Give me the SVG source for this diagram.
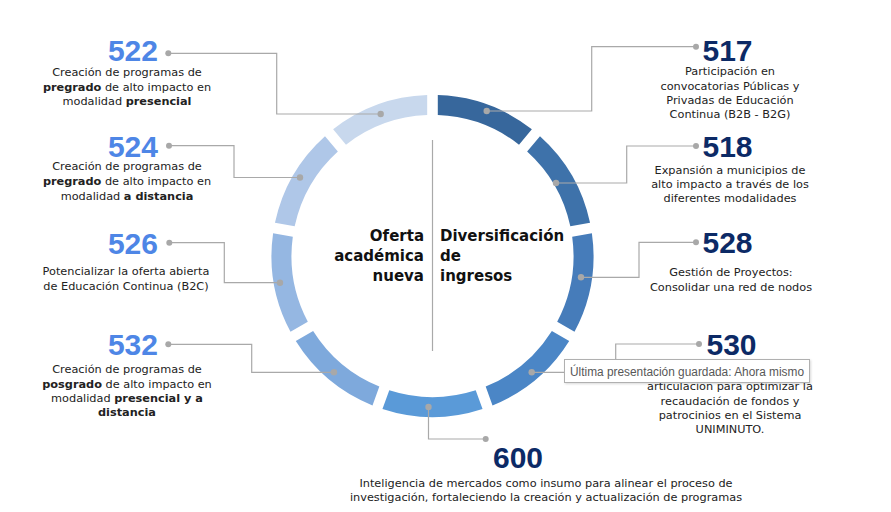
<svg xmlns="http://www.w3.org/2000/svg" xmlns:xlink="http://www.w3.org/1999/xlink" width="891" height="512" viewBox="0 0 891 512">
<style>
.num{font-family:"Liberation Sans",Arial,sans-serif;font-weight:bold;font-size:30px}
.nl{fill:#4E86E6}
.nr{fill:#0C2A66}
.d{font-family:"DejaVu Sans","Liberation Sans",sans-serif;font-size:11.3px;fill:#222;text-anchor:middle}
.b{font-weight:bold}
.c{font-family:"DejaVu Sans","Liberation Sans",sans-serif;font-weight:bold;font-size:15px;fill:#111}
.ln{fill:none;stroke:#A9A9A9;stroke-width:1.2}
.dot{fill:#A8A8A8}
</style>
<defs>
<path id="seg" d="M437.80,95.09 A161,161 0 0 1 531.87,129.32 L519.01,144.65 A141,141 0 0 0 437.80,115.10 Z"/>
<filter id="sh" x="-5%" y="-20%" width="110%" height="150%"><feDropShadow dx="1" dy="1" stdDeviation="1" flood-color="#000" flood-opacity="0.15"/></filter>
</defs>
<rect width="891" height="512" fill="#fff"/>

<g id="ring">
<use xlink:href="#seg" fill="#37679C"/>
<use xlink:href="#seg" fill="#3E72AA" transform="rotate(40 432.5 256)"/>
<use xlink:href="#seg" fill="#467CBA" transform="rotate(80 432.5 256)"/>
<use xlink:href="#seg" fill="#4B86C6" transform="rotate(120 432.5 256)"/>
<use xlink:href="#seg" fill="#5A9AD8" transform="rotate(160 432.5 256)"/>
<use xlink:href="#seg" fill="#7EA9DC" transform="rotate(200 432.5 256)"/>
<use xlink:href="#seg" fill="#95B7E2" transform="rotate(240 432.5 256)"/>
<use xlink:href="#seg" fill="#AFC7E8" transform="rotate(280 432.5 256)"/>
<use xlink:href="#seg" fill="#C8D8ED" transform="rotate(320 432.5 256)"/>
</g>

<g id="center">
<line x1="432.5" y1="140" x2="432.5" y2="351" stroke="#A9A9A9" stroke-width="1.2"/>
<text class="c" text-anchor="end" x="424" y="241">Oferta</text>
<text class="c" text-anchor="end" x="424" y="261">académica</text>
<text class="c" text-anchor="end" x="424" y="281">nueva</text>
<text class="c" x="440" y="241">Diversificación</text>
<text class="c" x="440" y="261">de</text>
<text class="c" x="440" y="281">ingresos</text>
</g>

<g id="connectors">
<path class="ln" d="M380.7,114 H276.7 V53.3 H168.3"/>
<path class="ln" d="M300,177.5 H234 V145.7 H169"/>
<path class="ln" d="M280,282.7 H224.3 V242.7 H169.3"/>
<path class="ln" d="M334,372.3 H251.7 V344.3 H168.3"/>
<path class="ln" d="M486.7,111 H591.7 V46.7 H696"/>
<path class="ln" d="M556,183 H626.7 V146 H696"/>
<path class="ln" d="M581,277.3 H639 V242.3 H696"/>
<path class="ln" d="M531.7,372.3 H615.7 V344 H699"/>
<path class="ln" d="M428.5,407 V439 H485.7"/>
</g>

<g id="n522">
<circle class="dot" cx="380.7" cy="114" r="3.2"/><circle class="dot" cx="168.3" cy="53.3" r="3"/>
<text class="num nl" text-anchor="end" x="158" y="61">522</text>
<text class="d" x="127" y="76">Creación de programas de</text>
<text class="d" x="127" y="91"><tspan class="b">pregrado</tspan> de alto impacto en</text>
<text class="d" x="127" y="105">modalidad <tspan class="b">presencial</tspan></text>
</g>

<g id="n524">
<circle class="dot" cx="300" cy="177.5" r="3.2"/><circle class="dot" cx="169" cy="145.7" r="3"/>
<text class="num nl" text-anchor="end" x="158" y="157">524</text>
<text class="d" x="127" y="170">Creación de programas de</text>
<text class="d" x="127" y="185"><tspan class="b">pregrado</tspan> de alto impacto en</text>
<text class="d" x="127" y="200">modalidad <tspan class="b">a distancia</tspan></text>
</g>

<g id="n526">
<circle class="dot" cx="280" cy="282.7" r="3.2"/><circle class="dot" cx="169.3" cy="242.7" r="3"/>
<text class="num nl" text-anchor="end" x="158" y="253.5">526</text>
<text class="d" x="126" y="275">Potencializar la oferta abierta</text>
<text class="d" x="126" y="290">de Educación Continua (B2C)</text>
</g>

<g id="n532">
<circle class="dot" cx="334" cy="372.3" r="3.2"/><circle class="dot" cx="168.3" cy="344.3" r="3"/>
<text class="num nl" text-anchor="end" x="158" y="354.5">532</text>
<text class="d" x="127" y="373">Creación de programas de</text>
<text class="d" x="127" y="388"><tspan class="b">posgrado</tspan> de alto impacto en</text>
<text class="d" x="127" y="402">modalidad <tspan class="b">presencial y a</tspan></text>
<text class="d b" x="127" y="416">distancia</text>
</g>

<g id="n517">
<circle class="dot" cx="486.7" cy="111" r="3.2"/><circle class="dot" cx="696" cy="46.7" r="3"/>
<text class="num nr" x="702.5" y="60.7">517</text>
<text class="d" x="730" y="75">Participación en</text>
<text class="d" x="730" y="89.5">convocatorias Públicas y</text>
<text class="d" x="730" y="104">Privadas de Educación</text>
<text class="d" x="730" y="118">Continua (B2B - B2G)</text>
</g>

<g id="n518">
<circle class="dot" cx="556" cy="183" r="3.2"/><circle class="dot" cx="696" cy="146" r="3"/>
<text class="num nr" x="702.5" y="156.7">518</text>
<text class="d" x="730" y="174">Expansión a municipios de</text>
<text class="d" x="730" y="188">alto impacto a través de los</text>
<text class="d" x="730" y="202">diferentes modalidades</text>
</g>

<g id="n528">
<circle class="dot" cx="581" cy="277.3" r="3.2"/><circle class="dot" cx="696" cy="242.3" r="3"/>
<text class="num nr" x="702.5" y="253.3">528</text>
<text class="d" x="731" y="276">Gestión de Proyectos:</text>
<text class="d" x="731" y="291">Consolidar una red de nodos</text>
</g>

<g id="n530">
<circle class="dot" cx="531.7" cy="372.3" r="3.2"/><circle class="dot" cx="699" cy="344" r="3"/>
<text class="num nr" x="706.5" y="355">530</text>
<text class="d" x="730" y="390">articulación para optimizar la</text>
<text class="d" x="730" y="405">recaudación de fondos y</text>
<text class="d" x="730" y="419">patrocinios en el Sistema</text>
<text class="d" x="730" y="433">UNIMINUTO.</text>
</g>

<g id="n600">
<circle class="dot" cx="428.5" cy="407" r="3.2"/><circle class="dot" cx="485.7" cy="439" r="3"/>
<text class="num nr" x="493" y="468">600</text>
<text class="d" x="546" y="487">Inteligencia de mercados como insumo para alinear el proceso de</text>
<text class="d" x="546" y="501">investigación, fortaleciendo la creación y actualización de programas</text>
</g>

<g id="tooltip">
<rect x="564.5" y="359.5" width="245" height="23" fill="#fff" stroke="#B0B0B0" stroke-width="1" filter="url(#sh)"/>
<text x="570" y="375.5" font-family="'Liberation Sans',Arial,sans-serif" font-size="12" fill="#575757" textLength="234" lengthAdjust="spacingAndGlyphs">Última presentación guardada: Ahora mismo</text>
</g>
</svg>
